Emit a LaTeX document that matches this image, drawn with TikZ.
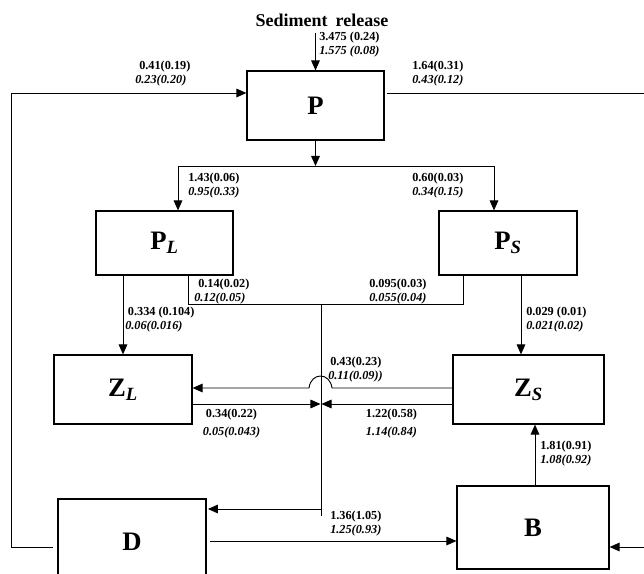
\documentclass[tikz,border=0pt]{standalone}
\usepackage{fontspec}
\setmainfont{Liberation Serif}
\usetikzlibrary{arrows.meta}
\newcommand{\flux}[2]{#1\\\textit{#2}}
\begin{document}
\begin{tikzpicture}[x=0.75pt,y=-0.75pt,>={Triangle[length=7.5pt,width=6.5pt]},
  box/.style={draw, line width=0.9pt, inner sep=0pt, font=\fontsize{20}{20}\selectfont\bfseries},
  flow/.style={line width=0.7pt},
  flux/.style={font=\fontsize{9.2}{10.5}\selectfont\bfseries, align=left, inner sep=0pt}]
\useasboundingbox (0,0) rectangle (644,574);

% compartments
\node[box, minimum width=102.75pt, minimum height=51.75pt] (P) at (315.5,105.5) {P};
\node[box, minimum width=102.75pt, minimum height=48pt] (PL) at (164.5,243) {P\textsubscript{\itshape L}};
\node[box, minimum width=103.5pt, minimum height=48pt] (PS) at (508,243) {P\textsubscript{\itshape S}};
\node[box, minimum width=103.5pt, minimum height=51.75pt] (ZL) at (123,389.5) {Z\textsubscript{\itshape L}};
\node[box, minimum width=113.25pt, minimum height=51.75pt] (ZS) at (528.5,389.5) {Z\textsubscript{\itshape S}};
\node[box, minimum width=111pt, minimum height=64.5pt] (D) at (132,542) {D};
\node[box, minimum width=114pt, minimum height=62.25pt] (B) at (533,527.5) {B};
\node[font=\fontsize{13.5}{14}\selectfont\bfseries] (sed) at (322,20) {Sediment\hspace{0.45em}release};

% flows out of P
\coordinate (sedin) at (315.5,33);
\draw[flow,->] (sedin) -- (P.north);
\coordinate (lt) at (11,93);
\coordinate (lb) at (11,547);
\coordinate (dl) at (53,547);
\draw[flow,->] (dl) -- (lb) -- (lt) -- (lt -| P.west);
\coordinate (rt) at (644,93);
\draw[flow] ([xshift=1.5pt]P.east |- rt) -- (rt);
\coordinate (brC) at (315.5,166);
\coordinate (brL) at (178,166);
\coordinate (brR) at (494,166);
\draw[flow,->] (P.south) -- (brC);
\draw[flow,->] (brR) -- (brL) -- (brL |- PL.north);
\draw[flow,->] (brL) -- (brR) -- (brR |- PS.north);

% grazing and detritus
\coordinate (sz) at (521,300);
\draw[flow,->] (PL.south -| ZL.north) -- (ZL.north);
\draw[flow,->] (PS.south -| sz) -- (ZS.north -| sz);
\coordinate (mL) at (188,304);
\coordinate (mR) at (463,304);
\coordinate (mC) at (321,304);
\coordinate (mD) at (321,516);
\draw[flow] (PL.south -| mL) -- (mL) -- (mR) -- (PS.south -| mR);
\draw[flow] (mC) -- (mD);
\coordinate (hopR) at (332,388);
\coordinate (hopL) at (309,388);
\draw[flow,->] (ZS.west |- hopR) -- (hopR) .. controls (330,372) and (311,372) .. (hopL) -- (ZL.east |- hopL);
\coordinate (mZ) at (321,404);
\draw[flow,->] (ZL.east |- mZ) -- ([xshift=-0.4pt]mZ);
\draw[flow,->] (ZS.west |- mZ) -- ([xshift=0.4pt]mZ);
\coordinate (dA) at (321,509);
\draw[flow,->] (dA) -- ([xshift=1pt]D.east |- dA);
\coordinate (db) at (210,541);
\draw[flow,->] (db) -- (B.west |- db);
\coordinate (bz) at (535,480);
\draw[flow,->] (B.north -| bz) -- (ZS.south -| bz);
\coordinate (rb) at (644,547);
\draw[flow,->] (rb) -- (B.east |- rb);

% flux values
\node[flux, anchor=west] (fsed) at (319,44.5) {\flux{3.475 (0.24)}{1.575 (0.08)}};
\node[flux, anchor=west] (fin) at (135,73.5) {\flux{\hspace{3pt}0.41(0.19)}{0.23(0.20)}};
\node[flux, anchor=west] (fout) at (412,73.5) {\flux{1.64(0.31)}{0.43(0.12)}};
\node[flux, anchor=west] (fpl) at (188,186) {\flux{1.43(0.06)}{0.95(0.33)}};
\node[flux, anchor=west] (fps) at (412,186) {\flux{0.60(0.03)}{0.34(0.15)}};
\node[flux, anchor=west] (fplm) at (194,292) {\flux{\hspace{3pt}0.14(0.02)}{0.12(0.05)}};
\node[flux, anchor=west] (fpsm) at (369,292) {\flux{0.095(0.03)}{0.055(0.04)}};
\node[flux, anchor=west] (fplz) at (125,320) {\flux{\hspace{2pt}0.334 (0.104)}{0.06(0.016)}};
\node[flux, anchor=west] (fpsz) at (526,320) {\flux{0.029 (0.01)}{0.021(0.02)}};
\node[flux, anchor=west] (fhop) at (328,370) {\flux{\hspace{1.5pt}0.43(0.23)}{0.11(0.09))}};
\node[flux, align=center] (fzl) at (231.5,424) {0.34(0.22)\\[3pt]\textit{0.05(0.043)}};
\node[flux, align=center] (fzs) at (391.5,424) {1.22(0.58)\\[3pt]\textit{1.14(0.84)}};
\node[flux, anchor=west] (fbz) at (540,454) {\flux{1.81(0.91)}{1.08(0.92)}};
\node[flux, anchor=west] (fdb) at (330,524) {\flux{1.36(1.05)}{1.25(0.93)}};
\end{tikzpicture}
\end{document}
